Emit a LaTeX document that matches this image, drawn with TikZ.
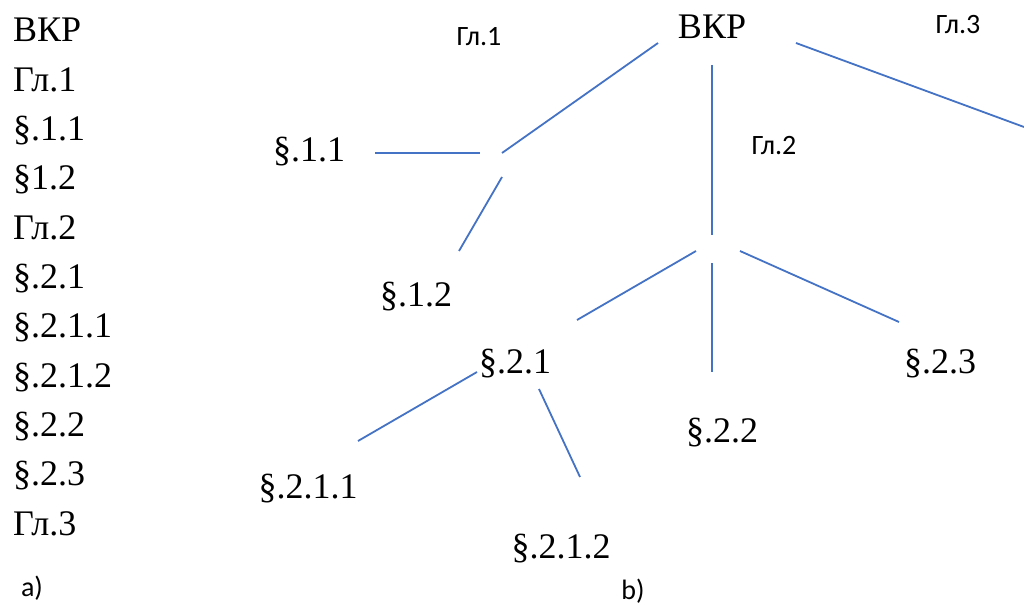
\documentclass[tikz,border=0pt]{standalone}
\usepackage{fontspec}
\setmainfont{Liberation Serif}
\newfontfamily\labfont{Carlito}
\definecolor{linia}{RGB}{68,114,196}

\begin{document}
\begin{tikzpicture}[x=1pt,y=-1pt,
	big/.style={font=\fontsize{36}{40}\selectfont, anchor=base, inner sep=0pt},
	lab/.style={font=\labfont\fontsize{28}{32}\selectfont, anchor=base, inner sep=0pt},
	gal/.style={linia, line width=1.8pt}]
	\useasboundingbox (0,0) rectangle (1024,604);
	
	% Spis a)
	\foreach \t [count=\i from 0] in {ВКР, Гл.1, §.1.1, §1.2, Гл.2, §.2.1, §.2.1.1, §.2.1.2, §.2.2, §.2.3, Гл.3}
		\node[big, anchor=base west] (a\i) at (13, 42+49.3*\i) {\t};
	\node[lab] (pa) at (32, 596) {a)};
	
	% Drzewo b)
	\node[big] (vkr) at (712, 39) {ВКР};
	\node[lab] (gl1) at (479, 46) {Гл.1};
	\node[lab] (gl2) at (774, 155) {Гл.2};
	\node[lab] (gl3) at (958, 34) {Гл.3};
	\node[big] (p11) at (309, 161) {§.1.1};
	\node[big] (p12) at (416, 306) {§.1.2};
	\node[big] (p21) at (515, 373) {§.2.1};
	\node[big] (p211) at (308, 498) {§.2.1.1};
	\node[big] (p212) at (561, 558) {§.2.1.2};
	\node[big] (p22) at (722, 442) {§.2.2};
	\node[big] (p23) at (940, 373) {§.2.3};
	\node[lab] (pb) at (633, 599) {b)};
	
	% Punkty linii
	\coordinate (r1) at (658,43);  \coordinate (r1k) at (502,153);
	\coordinate (r3) at (796,43);  \coordinate (r3k) at (1024,127);
	\coordinate (r2) at (712,65);  \coordinate (r2k) at (712,235);
	\coordinate (h1) at (375,153); \coordinate (h1k) at (480,153);
	\coordinate (h2) at (502,177); \coordinate (h2k) at (459,251);
	\coordinate (k1) at (696,251); \coordinate (k1k) at (577,320);
	\coordinate (k2) at (712,263); \coordinate (k2k) at (712,372);
	\coordinate (k3) at (740,251); \coordinate (k3k) at (899,322);
	\coordinate (m1) at (477,372); \coordinate (m1k) at (358,441);
	\coordinate (m2) at (539,389); \coordinate (m2k) at (580,477);
	
	% Linie
	\foreach \p in {r1, r2, r3, h1, h2, k1, k2, k3, m1, m2}
		\draw[gal] (\p) -- (\p k);
\end{tikzpicture}
\end{document}
